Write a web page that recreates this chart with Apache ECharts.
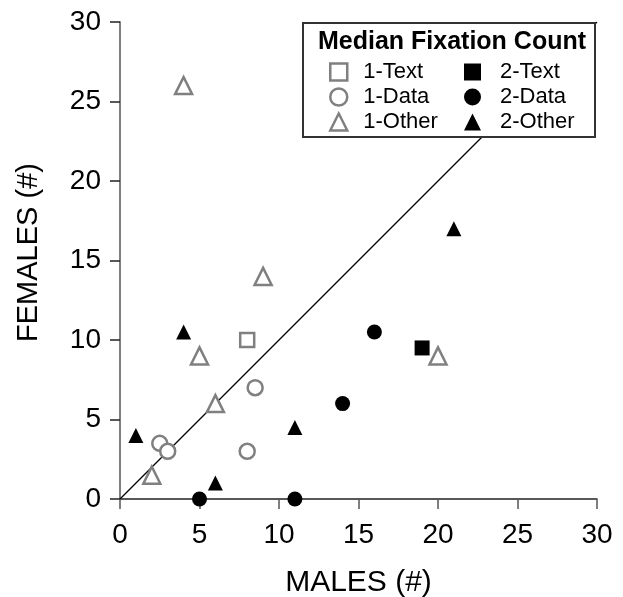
<!DOCTYPE html>
<html>
<head>
<meta charset="utf-8">
<script src="https://cdn.jsdelivr.net/npm/echarts@6/dist/echarts.min.js"></script>
<style>
  html, body { margin: 0; padding: 0; background: #fff; }
  #chart { width: 623px; height: 597px; }
</style>
</head>
<body>
<div id="chart"></div>
<script>
// median fixation count: males (x) vs females (y)
const text1 = [[8, 10]];
const text2 = [[19, 9.5]];
const data1 = [[2.5, 3.5], [3, 3], [8, 3], [8.5, 7]];
const data2 = [[5, 0], [11, 0], [14, 6], [16, 10.5]];
const other1 = [[4, 26], [9, 14], [5, 9], [6, 6], [2, 1.5], [20, 9]];
const other2 = [[4, 10.5], [1, 4], [6, 1], [11, 4.5], [21, 17]];
// y = x reference line
const diagonal = [[0, 0], [30, 30]];
const legendLeft = ["1-Text", "1-Data", "1-Other"];
const legendRight = ["2-Text", "2-Data", "2-Other"];

const font = "Liberation Sans";
const grey = "#808080";

function hollow(name, symbol, size, data) {
  return {
    name: name, type: "scatter", symbol: symbol, symbolSize: size, data: data,
    itemStyle: { color: "#fff", borderColor: grey, borderWidth: 2.5, opacity: 1 },
    emphasis: { disabled: true }, z: 3
  };
}
function solid(name, symbol, size, data) {
  return {
    name: name, type: "scatter", symbol: symbol, symbolSize: size, data: data,
    itemStyle: { color: "#000", opacity: 1 },
    emphasis: { disabled: true }, z: 3
  };
}

const chart = echarts.init(document.getElementById("chart"));
chart.setOption({
  animation: false,
  textStyle: { fontFamily: font, color: "#000" },
  grid: { left: 120, right: 26, top: 22, bottom: 98, containLabel: false, outerBoundsMode: "none" },
  xAxis: {
    type: "value", min: 0, max: 30, interval: 5,
    name: "MALES (#)", nameLocation: "middle", nameGap: 69,
    nameTextStyle: { fontSize: 30, fontFamily: font, color: "#000" },
    axisLine: { lineStyle: { color: "#222", width: 1.5 } },
    axisTick: { show: true, length: 10, lineStyle: { color: "#555", width: 1.5 } },
    axisLabel: { fontSize: 28, margin: 22, color: "#000", fontFamily: font },
    splitLine: { show: false }
  },
  yAxis: {
    type: "value", min: 0, max: 30, interval: 5,
    name: "FEMALES (#)", nameLocation: "middle", nameGap: 77,
    nameTextStyle: { fontSize: 29, fontFamily: font, color: "#000", padding: [0, 0, 0, 16] },
    axisLine: { show: true, lineStyle: { color: grey, width: 2 } },
    axisTick: { show: true, length: 10, lineStyle: { color: "#222", width: 1.5 } },
    axisLabel: { fontSize: 28, margin: 19, color: "#000", fontFamily: font },
    splitLine: { show: false }
  },
  legend: [
    {
      data: legendLeft.map(function (n) { return { name: n, itemStyle: { borderWidth: 2.5 } }; }),
      orient: "vertical", left: 324, top: 56,
      itemWidth: 17, itemHeight: 17, itemGap: 3, selectedMode: false, z: 10,
      textStyle: { fontSize: 22, fontFamily: font, color: "#000", padding: [0, 0, 0, 11] }
    },
    {
      data: legendRight, orient: "vertical", left: 459, top: 56,
      itemWidth: 17, itemHeight: 17, itemGap: 3, selectedMode: false, z: 10,
      textStyle: { fontSize: 22, fontFamily: font, color: "#000", padding: [0, 0, 0, 14] }
    }
  ],
  graphic: [
    {
      type: "rect", z: 8, silent: true,
      shape: { x: 303, y: 23, width: 292, height: 114 },
      style: { fill: "#fff", stroke: "#333", lineWidth: 2 }
    },
    {
      type: "text", z: 10, silent: true, x: 452, y: 42,
      style: {
        text: "Median Fixation Count", fill: "#000",
        font: "bold 25px 'Liberation Sans'", align: "center", verticalAlign: "middle"
      }
    }
  ],
  series: [
    {
      type: "line", data: diagonal, symbol: "none", silent: true, z: 1,
      lineStyle: { color: "#000", width: 1.2 }
    },
    hollow("1-Text", "rect", 14, text1),
    hollow("1-Data", "circle", 15, data1),
    hollow("1-Other", "triangle", 17, other1),
    solid("2-Text", "rect", 15, text2),
    solid("2-Data", "circle", 15, data2),
    solid("2-Other", "triangle", 15, other2)
  ]
});
</script>
</body>
</html>
